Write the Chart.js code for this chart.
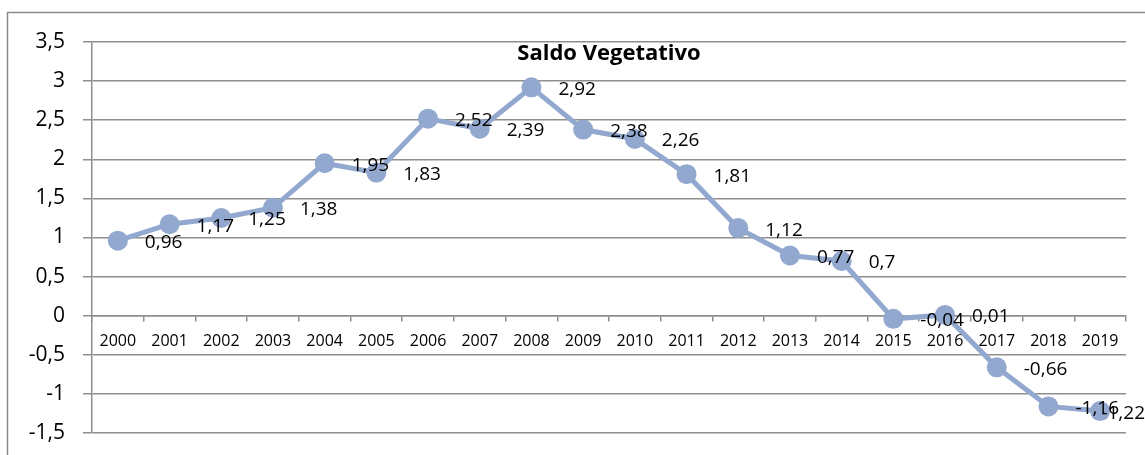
<!DOCTYPE html>
<html>
<head>
<meta charset="utf-8">
<script src="https://cdn.jsdelivr.net/npm/chart.js@4"></script>
<style>
  html, body { margin: 0; padding: 0; background: #fff; overflow: hidden; }
  #chart-container { position: relative; width: 1145px; height: 455px; }
</style>
</head>
<body>
<div id="chart-container">
  <canvas id="saldoChart" width="1145" height="455"></canvas>
</div>
<script>
// Years on the category axis
var years = ['2000', '2001', '2002', '2003', '2004', '2005', '2006', '2007', '2008', '2009',
             '2010', '2011', '2012', '2013', '2014', '2015', '2016', '2017', '2018', '2019'];

// Saldo vegetativo per year
var saldo = [0.96, 1.17, 1.25, 1.38, 1.95, 1.83, 2.52, 2.39, 2.92, 2.38,
             2.26, 1.81, 1.12, 0.77, 0.7, -0.04, 0.01, -0.66, -1.16, -1.22];

var chartTitle = 'Saldo Vegetativo';

var FONT = '"Open Sans", "Liberation Sans", sans-serif';
var LINE_COLOR = '#92a8cf';
var GRID_COLOR = '#8e8e8e';

function comma(v) {
  return String(v).replace('.', ',');
}

// Outer frame of the chart (left and top edges visible, the rest is cut off)
var framePlugin = {
  id: 'frame',
  beforeDraw: function (chart) {
    var ctx = chart.ctx;
    ctx.save();
    ctx.strokeStyle = '#8a8a8a';
    ctx.lineWidth = 1.5;
    ctx.strokeRect(7.5, 12.5, 3000, 3000);
    ctx.restore();
  }
};

// Title drawn inside the plot area, like the overlay title in Excel
var titlePlugin = {
  id: 'overlayTitle',
  afterDraw: function (chart) {
    var ctx = chart.ctx;
    var area = chart.chartArea;
    ctx.save();
    ctx.font = 'bold 22px ' + FONT;
    ctx.fillStyle = '#000';
    ctx.textAlign = 'center';
    ctx.textBaseline = 'middle';
    ctx.fillText(chartTitle, (area.left + area.right) / 2, area.top + 12);
    ctx.restore();
  }
};

// Value labels to the right of each marker, kept inside the canvas
var valueLabels = {
  id: 'valueLabels',
  afterDatasetsDraw: function (chart) {
    var ctx = chart.ctx;
    var meta = chart.getDatasetMeta(0);
    ctx.save();
    ctx.font = '19px ' + FONT;
    ctx.fillStyle = '#000';
    ctx.textAlign = 'left';
    ctx.textBaseline = 'middle';
    meta.data.forEach(function (pt, i) {
      var text = comma(saldo[i]);
      var w = ctx.measureText(text).width;
      var x = Math.min(pt.x + 27, chart.width - w);
      ctx.fillText(text, x, pt.y + 2);
    });
    ctx.restore();
  }
};

var ctx = document.getElementById('saldoChart').getContext('2d');
window.saldoChart = new Chart(ctx, {
  type: 'line',
  data: {
    labels: years,
    datasets: [{
      label: chartTitle,
      data: saldo,
      borderColor: LINE_COLOR,
      backgroundColor: LINE_COLOR,
      borderWidth: 5,
      pointRadius: 10,
      pointBackgroundColor: LINE_COLOR,
      pointBorderColor: LINE_COLOR,
      pointBorderWidth: 0,
      tension: 0
    }]
  },
  options: {
    responsive: false,
    animation: false,
    events: [],
    layout: {
      padding: { left: 0, top: 42, right: 19, bottom: 22 }
    },
    plugins: {
      legend: { display: false },
      tooltip: { enabled: false },
      title: { display: false }
    },
    scales: {
      x: {
        type: 'category',
        position: { y: 0 },
        offset: true,
        grid: {
          offset: true,
          drawOnChartArea: false,
          drawTicks: true,
          tickLength: 5,
          color: GRID_COLOR,
          lineWidth: 1.5
        },
        border: { display: true, color: GRID_COLOR, width: 1.5 },
        ticks: {
          color: '#000',
          font: { family: FONT, size: 16 },
          padding: 11,
          maxRotation: 0,
          autoSkip: false
        }
      },
      y: {
        min: -1.5,
        max: 3.5,
        afterFit: function (scale) {
          // fixed axis width; padding handled by layout.padding
          scale.width = 92;
          scale.paddingTop = 0;
          scale.paddingBottom = 0;
        },
        grid: {
          color: GRID_COLOR,
          lineWidth: 1.5,
          tickLength: 9
        },
        border: { display: true, color: GRID_COLOR, width: 1.5 },
        ticks: {
          stepSize: 0.5,
          color: '#000',
          padding: 18,
          font: { family: FONT, size: 21 },
          callback: function (value) { return comma(value); }
        }
      }
    }
  },
  plugins: [framePlugin, valueLabels, titlePlugin]
});
</script>
</body>
</html>
